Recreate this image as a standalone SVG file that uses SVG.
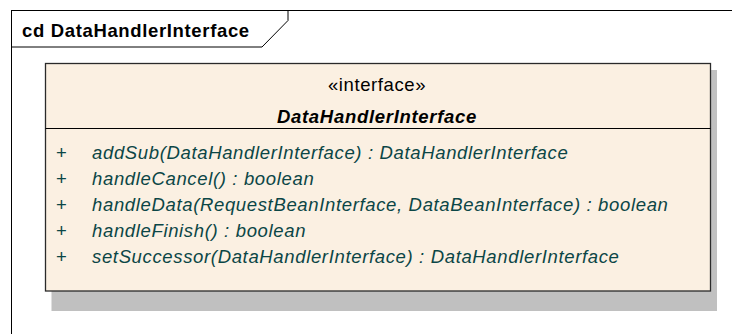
<svg xmlns="http://www.w3.org/2000/svg" width="732" height="334" viewBox="0 0 732 334">
  <style>
    .frame { fill: #ffffff; stroke: #000000; stroke-width: 1; }
    .title { font-family: "Liberation Sans", Arial, sans-serif; font-size: 18.5px; font-weight: bold; letter-spacing: 0.65px; fill: #000000; }
    .shadow { fill: #c0c0c0; }
    .box { fill: #fbf0e2; stroke: #2a2a2a; stroke-width: 1.3; }
    .sep { stroke: #000000; stroke-width: 1; }
    .stereo { font-family: "Liberation Sans", Arial, sans-serif; font-size: 18.5px; letter-spacing: 0.6px; fill: #000000; text-anchor: middle; }
    .cname { font-family: "Liberation Sans", Arial, sans-serif; font-size: 18.5px; font-weight: bold; font-style: italic; letter-spacing: 0.7px; fill: #000000; text-anchor: middle; }
    .vis { font-family: "Liberation Sans", Arial, sans-serif; font-size: 18.5px; fill: #0b4646; }
    .op { font-family: "Liberation Sans", Arial, sans-serif; font-size: 18.5px; font-style: italic; letter-spacing: 0.65px; fill: #0b4646; }
  </style>
  <rect width="732" height="334" fill="#ffffff"/>

  <!-- diagram frame with name tab -->
  <g id="frame">
    <rect class="frame" x="11.5" y="10.5" width="730" height="330"/>
    <path d="M11.5 47 H262 L288 20.5 V10.5" fill="none" stroke="#000000" stroke-width="1"/>
    <text class="title" x="22" y="37">cd DataHandlerInterface</text>
  </g>

  <!-- interface classifier -->
  <g id="DataHandlerInterface">
    <rect class="shadow" x="51.5" y="70" width="665.5" height="241"/>
    <rect class="box" x="45.5" y="63.5" width="665" height="227.5"/>
    <line class="sep" x1="45.5" y1="128.5" x2="710.5" y2="128.5"/>
    <text class="stereo" x="377" y="91">«interface»</text>
    <text class="cname" x="377" y="123">DataHandlerInterface</text>
    <text class="vis" x="56" y="159">+</text>
    <text class="op" x="92" y="159">addSub(DataHandlerInterface) : DataHandlerInterface</text>
    <text class="vis" x="56" y="185">+</text>
    <text class="op" x="92" y="185">handleCancel() : boolean</text>
    <text class="vis" x="56" y="211">+</text>
    <text class="op" x="92" y="211">handleData(RequestBeanInterface, DataBeanInterface) : boolean</text>
    <text class="vis" x="56" y="237">+</text>
    <text class="op" x="92" y="237">handleFinish() : boolean</text>
    <text class="vis" x="56" y="263">+</text>
    <text class="op" x="92" y="263">setSuccessor(DataHandlerInterface) : DataHandlerInterface</text>
  </g>
</svg>
